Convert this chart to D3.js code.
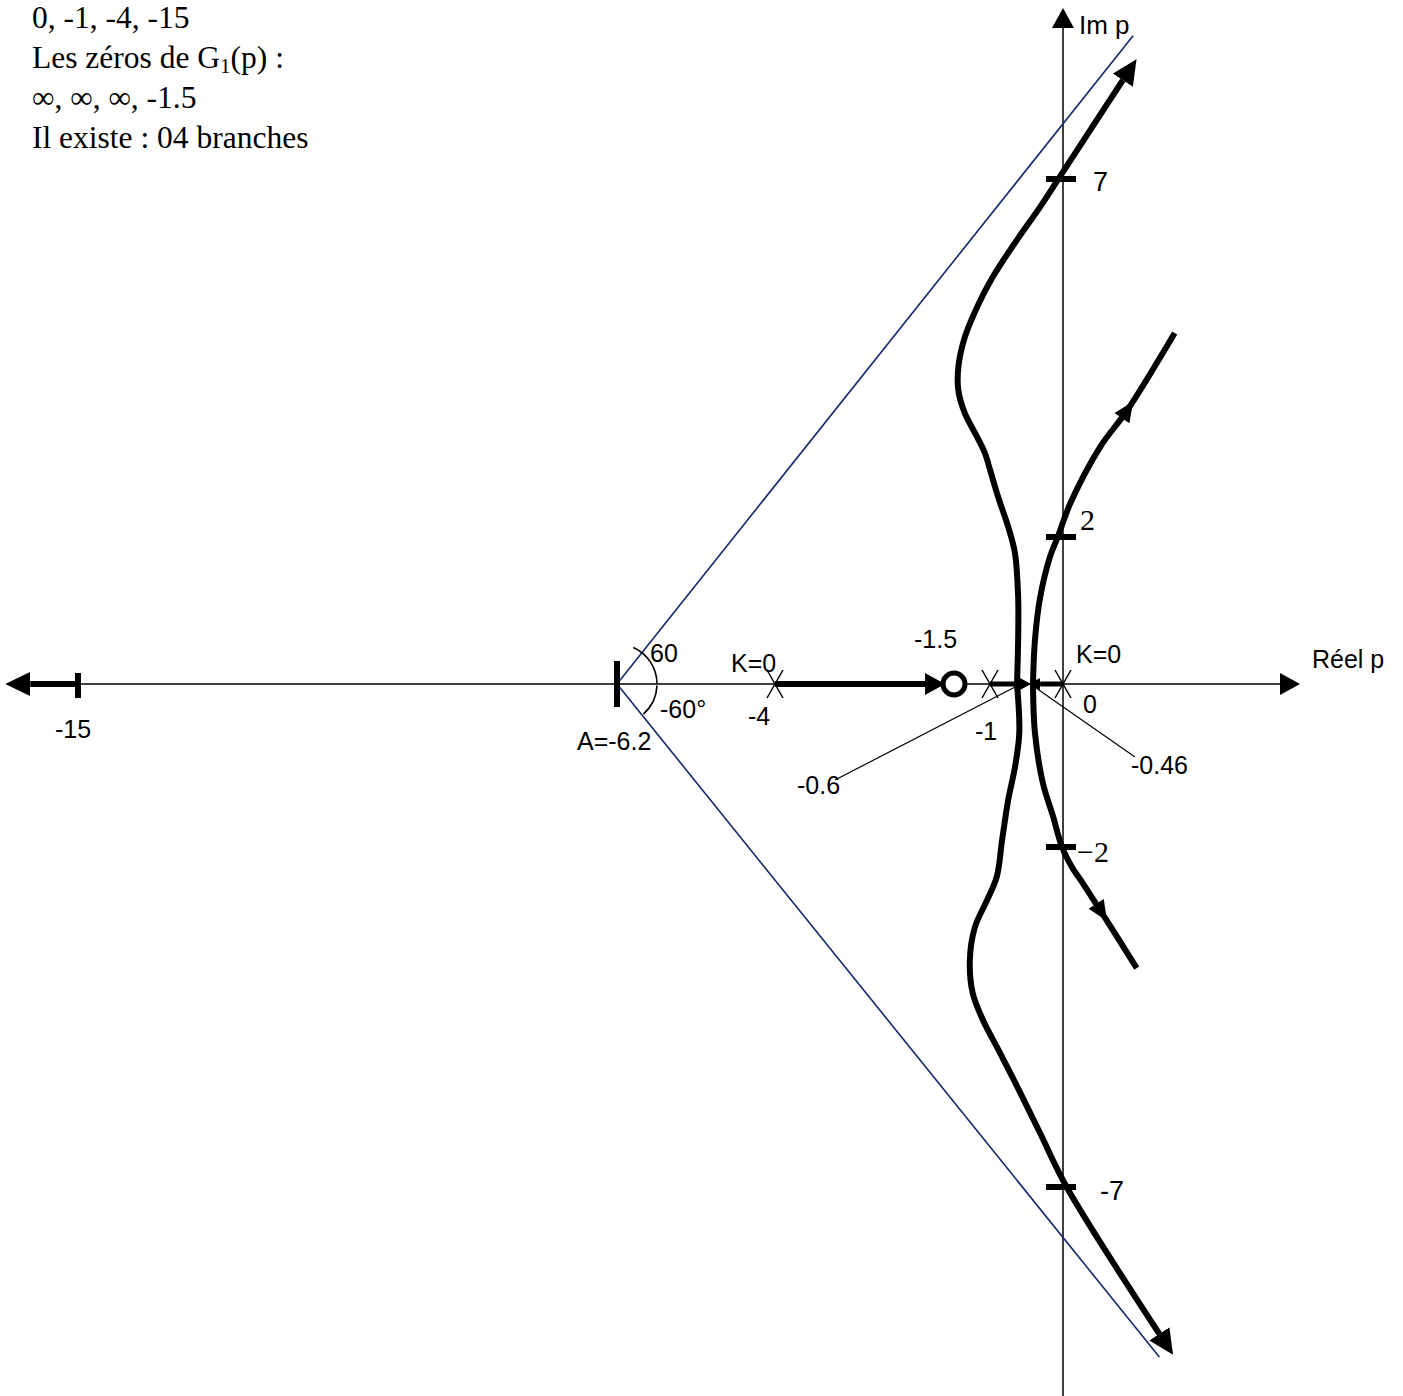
<!DOCTYPE html>
<html>
<head>
<meta charset="utf-8">
<script src="https://cdn.jsdelivr.net/npm/d3@7"></script>
<style>
  body { margin: 0; background: #fff; }
  svg { display: block; }
  .lbl { font-family: 'Liberation Sans', Arial, sans-serif; font-size: 25px; fill: #000; }
  .serif { font-family: 'Liberation Serif', 'Times New Roman', serif; fill: #000; }
</style>
</head>
<body>
<div id="chart"></div>
<script>
// Pôles et zéros de G1(p)
const poles = [0, -1, -4, -15];
const zeros = [-1.5];
const centroid = -6.2;
const breakaway = [-0.6, -0.46];
const imTicks = [7, 2, -2, -7];
const infoLines = ['0, -1, -4, -15', 'Les zéros de G₁(p) :', '∞, ∞, ∞, -1.5', 'Il existe : 04 branches'];

// branches du lieu, points [Re, Im]
const outerUpper = [[-0.6, 0], [-0.59, 0.6], [-0.59, 1.18], [-0.63, 1.78], [-0.73, 2.14], [-0.88, 2.56],
  [-1.0, 2.94], [-1.07, 3.17], [-1.18, 3.4], [-1.35, 3.73], [-1.44, 4.05], [-1.44, 4.37], [-1.35, 4.79],
  [-1.18, 5.21], [-0.96, 5.63], [-0.6, 6.15], [-0.35, 6.61], [-0.05, 7.03], [0.82, 8.38]];
const outerLower = [[-0.6, 0], [-0.58, -0.6], [-0.63, -1.02], [-0.73, -1.42], [-0.82, -1.91], [-0.9, -2.44],
  [-1.04, -2.78], [-1.21, -3.18], [-1.28, -3.66], [-1.24, -4.15], [-1.1, -4.54], [-0.85, -5.03],
  [-0.57, -5.62], [-0.35, -6.21], [0.05, -7], [1.32, -9.16]];
const innerUpper = [[-0.46, 0], [-0.43, 0.6], [-0.35, 1.18], [-0.2, 1.73], [-0.08, 2.0], [0.1, 2.47],
  [0.51, 3.26], [0.88, 3.77], [1.53, 4.85]];
const innerLower = [[-0.46, 0], [-0.43, -0.6], [-0.31, -1.21], [-0.15, -1.63], [-0.015, -2], [0.12, -2.29],
  [0.27, -2.53], [0.51, -2.93], [1.01, -3.78]];
const innerArrows = [[0.88, 3.77], [0.51, -2.95]];
const asymptoteEnds = [[0.96, 9.0], [1.32, -9.5]];
// segments du lieu sur l'axe réel [départ, fin]
const axisLoci = [[-4, -1.905], [-15, -15.78], [-1, -0.574], [0, -0.35]];
const axisArrowKind = ['med', 'big', 'small', 'small'];

const width = 1403;
const height = 1396;

// échelle dessinée à la main : linéaire par morceaux
const x = d3.scaleLinear()
  .domain([-15, -6.2, -4, -1.5, -1, -0.6, -0.46, 0, 3])
  .range([78, 617, 775, 954, 990, 1017, 1033, 1063, 1282]);
const y = d3.scaleLinear()
  .domain([-7, -2, 0, 2, 7])
  .range([1187, 847, 684, 537, 179]);

const svg = d3.select('#chart').append('svg')
  .attr('width', width)
  .attr('height', height);

const defs = svg.append('defs');
const heads = { big: [25, 12], med: [20, 11], small: [11, 6] };
Object.keys(heads).forEach((k) => {
  const [L, h] = heads[k];
  defs.append('marker')
    .attr('id', `head-${k}`)
    .attr('markerUnits', 'userSpaceOnUse')
    .attr('viewBox', `0 ${-h} ${L} ${2 * h}`)
    .attr('markerWidth', L)
    .attr('markerHeight', 2 * h)
    .attr('refX', 0)
    .attr('refY', 0)
    .attr('orient', 'auto')
    .append('path')
    .attr('d', `M0,${-h}L${L},0L0,${h}Z`)
    .attr('fill', '#000');
});

const x0 = x(0);
const y0 = y(0);

// axes
svg.append('line')
  .attr('x1', x(-15)).attr('y1', y0)
  .attr('x2', x(3) - 2).attr('y2', y0)
  .attr('stroke', '#000').attr('stroke-width', 1.5)
  .attr('marker-end', 'url(#head-med)');
svg.append('line')
  .attr('x1', x0).attr('y1', height)
  .attr('x2', x0).attr('y2', y(9.36) + 18)
  .attr('stroke', '#000').attr('stroke-width', 1.5)
  .attr('marker-end', 'url(#head-med)');

// asymptotes
asymptoteEnds.forEach((d) => {
  svg.append('line')
    .attr('x1', x(centroid)).attr('y1', y0)
    .attr('x2', x(d[0])).attr('y2', y(d[1]))
    .attr('stroke', '#14286b').attr('stroke-width', 1.6);
});

// arcs d'angle
const arcGen = d3.arc().innerRadius(40).outerRadius(40);
const gArc = svg.append('g').attr('transform', `translate(${x(centroid)},${y0})`);
gArc.append('path').attr('d', arcGen({ startAngle: 0.42, endAngle: Math.PI / 2 - 0.02 }))
  .attr('fill', 'none').attr('stroke', '#000').attr('stroke-width', 1.6);
gArc.append('path').attr('d', arcGen({ startAngle: Math.PI / 2 + 0.04, endAngle: 2.42 }))
  .attr('fill', 'none').attr('stroke', '#000').attr('stroke-width', 1.6);

// lignes de repère -0.6 / -0.46
svg.append('line')
  .attr('x1', x(breakaway[0])).attr('y1', y0 + 2)
  .attr('x2', 835).attr('y2', 780)
  .attr('stroke', '#000').attr('stroke-width', 1.2);
svg.append('line')
  .attr('x1', x(breakaway[1]) + 3).attr('y1', y0 + 4)
  .attr('x2', 1135).attr('y2', 757)
  .attr('stroke', '#000').attr('stroke-width', 1.2);

// branches
const line = d3.line()
  .x(d => x(d[0]))
  .y(d => y(d[1]))
  .curve(d3.curveCatmullRom.alpha(0.5));

const branches = [outerUpper, outerLower, innerUpper, innerLower];
const paths = branches.map((b, i) => svg.append('path')
  .attr('d', line(b))
  .attr('fill', 'none')
  .attr('stroke', '#000')
  .attr('stroke-width', 6)
  .attr('marker-end', i < 2 ? 'url(#head-big)' : null));

// flèches au milieu des branches intérieures
innerArrows.forEach((a, i) => {
  const node = paths[i + 2].node();
  const total = node.getTotalLength();
  const tx = x(a[0]);
  const ty = y(a[1]);
  let best = 0;
  let bestD = Infinity;
  for (let s = 0; s <= total; s += 1) {
    const p = node.getPointAtLength(s);
    const dd = (p.x - tx) ** 2 + (p.y - ty) ** 2;
    if (dd < bestD) { bestD = dd; best = s; }
  }
  const p1 = node.getPointAtLength(Math.max(0, best - 3));
  const p2 = node.getPointAtLength(Math.min(total, best + 3));
  const ang = Math.atan2(p2.y - p1.y, p2.x - p1.x) * 180 / Math.PI;
  const c = node.getPointAtLength(best);
  svg.append('path')
    .attr('d', 'M-9,-9L11,0L-9,9Z')
    .attr('fill', '#000')
    .attr('transform', `translate(${c.x},${c.y}) rotate(${ang})`);
});

// lieu sur l'axe réel
axisLoci.forEach((s, i) => {
  svg.append('line')
    .attr('x1', x(s[0])).attr('y1', y0)
    .attr('x2', x(s[1])).attr('y2', y0)
    .attr('stroke', '#000')
    .attr('stroke-width', axisArrowKind[i] === 'small' ? 5 : 6)
    .attr('marker-end', `url(#head-${axisArrowKind[i]})`);
});

// graduations
svg.append('rect')
  .attr('x', x(centroid) - 3).attr('y', y0 - 23)
  .attr('width', 6).attr('height', 46)
  .attr('fill', '#000');
svg.append('rect')
  .attr('x', x(-15) - 3).attr('y', y0 - 11)
  .attr('width', 6).attr('height', 25)
  .attr('fill', '#000');
svg.selectAll('.imtick')
  .data(imTicks)
  .enter().append('rect')
  .attr('class', 'imtick')
  .attr('x', x0 - 17).attr('y', d => y(d) - 3)
  .attr('width', 30).attr('height', 6)
  .attr('fill', '#000');

// pôles (croix) et zéro (cercle)
const cross = svg.selectAll('.pole')
  .data(poles.filter(p => p > -15))
  .enter().append('g')
  .attr('class', 'pole')
  .attr('transform', d => `translate(${x(d)},${y0})`);
cross.append('line').attr('x1', -8).attr('y1', -14).attr('x2', 8).attr('y2', 14)
  .attr('stroke', '#000').attr('stroke-width', 1.5);
cross.append('line').attr('x1', 8).attr('y1', -14).attr('x2', -8).attr('y2', 14)
  .attr('stroke', '#000').attr('stroke-width', 1.5);

svg.selectAll('.zero')
  .data(zeros)
  .enter().append('circle')
  .attr('class', 'zero')
  .attr('cx', d => x(d)).attr('cy', y0)
  .attr('r', 11)
  .attr('fill', '#fff')
  .attr('stroke', '#000')
  .attr('stroke-width', 5);

// étiquettes
const labels = [
  { t: '-15', x: x(-15) - 23, y: y0 + 54 },
  { t: 'A=-6.2', x: x(centroid) - 40, y: y0 + 66 },
  { t: '60', x: x(centroid) + 33, y: y0 - 22 },
  { t: '-60°', x: x(centroid) + 43, y: y0 + 34 },
  { t: 'K=0', x: x(-4) - 44, y: y0 - 12 },
  { t: '-4', x: x(-4) - 27, y: y0 + 41 },
  { t: '-1.5', x: x(-1.5) - 40, y: y0 - 36 },
  { t: '-1', x: x(-1) - 15, y: y0 + 56 },
  { t: 'K=0', x: x0 + 13, y: y0 - 21 },
  { t: '0', x: x0 + 20, y: y0 + 29 },
  { t: '-0.6', x: 797, y: 794 },
  { t: '-0.46', x: 1131, y: 774 },
  { t: 'Réel p', x: x(3) + 30, y: y0 - 16 },
  { t: 'Im p', x: x0 + 16, y: 34, size: 26 },
  { t: '7', x: x0 + 30, y: y(7) + 12, size: 27 },
  { t: '-7', x: x0 + 37, y: y(-7) + 13, size: 27 },
];
svg.selectAll('.lbl')
  .data(labels)
  .enter().append('text')
  .attr('class', 'lbl')
  .attr('x', d => d.x)
  .attr('y', d => d.y)
  .style('font-size', d => `${d.size || 25}px`)
  .text(d => d.t);

svg.append('text').attr('class', 'serif')
  .attr('x', x0 + 17).attr('y', y(2) - 7)
  .style('font-size', '30px').text('2');
svg.append('text').attr('class', 'serif')
  .attr('x', x0 + 14).attr('y', y(-2) + 15)
  .style('font-size', '30px').text('\u22122');

// texte en haut à gauche
infoLines.forEach((l, i) => {
  const t = svg.append('text').attr('class', 'serif')
    .attr('x', 32).attr('y', 28 + i * 40)
    .style('font-size', '31.5px');
  const parts = l.split('₁');
  t.append('tspan').text(parts[0]);
  if (parts.length > 1) {
    t.append('tspan').attr('dy', 5).style('font-size', '21px').text('1');
    t.append('tspan').attr('dy', -5).text(parts[1]);
  }
});
</script>
</body>
</html>
